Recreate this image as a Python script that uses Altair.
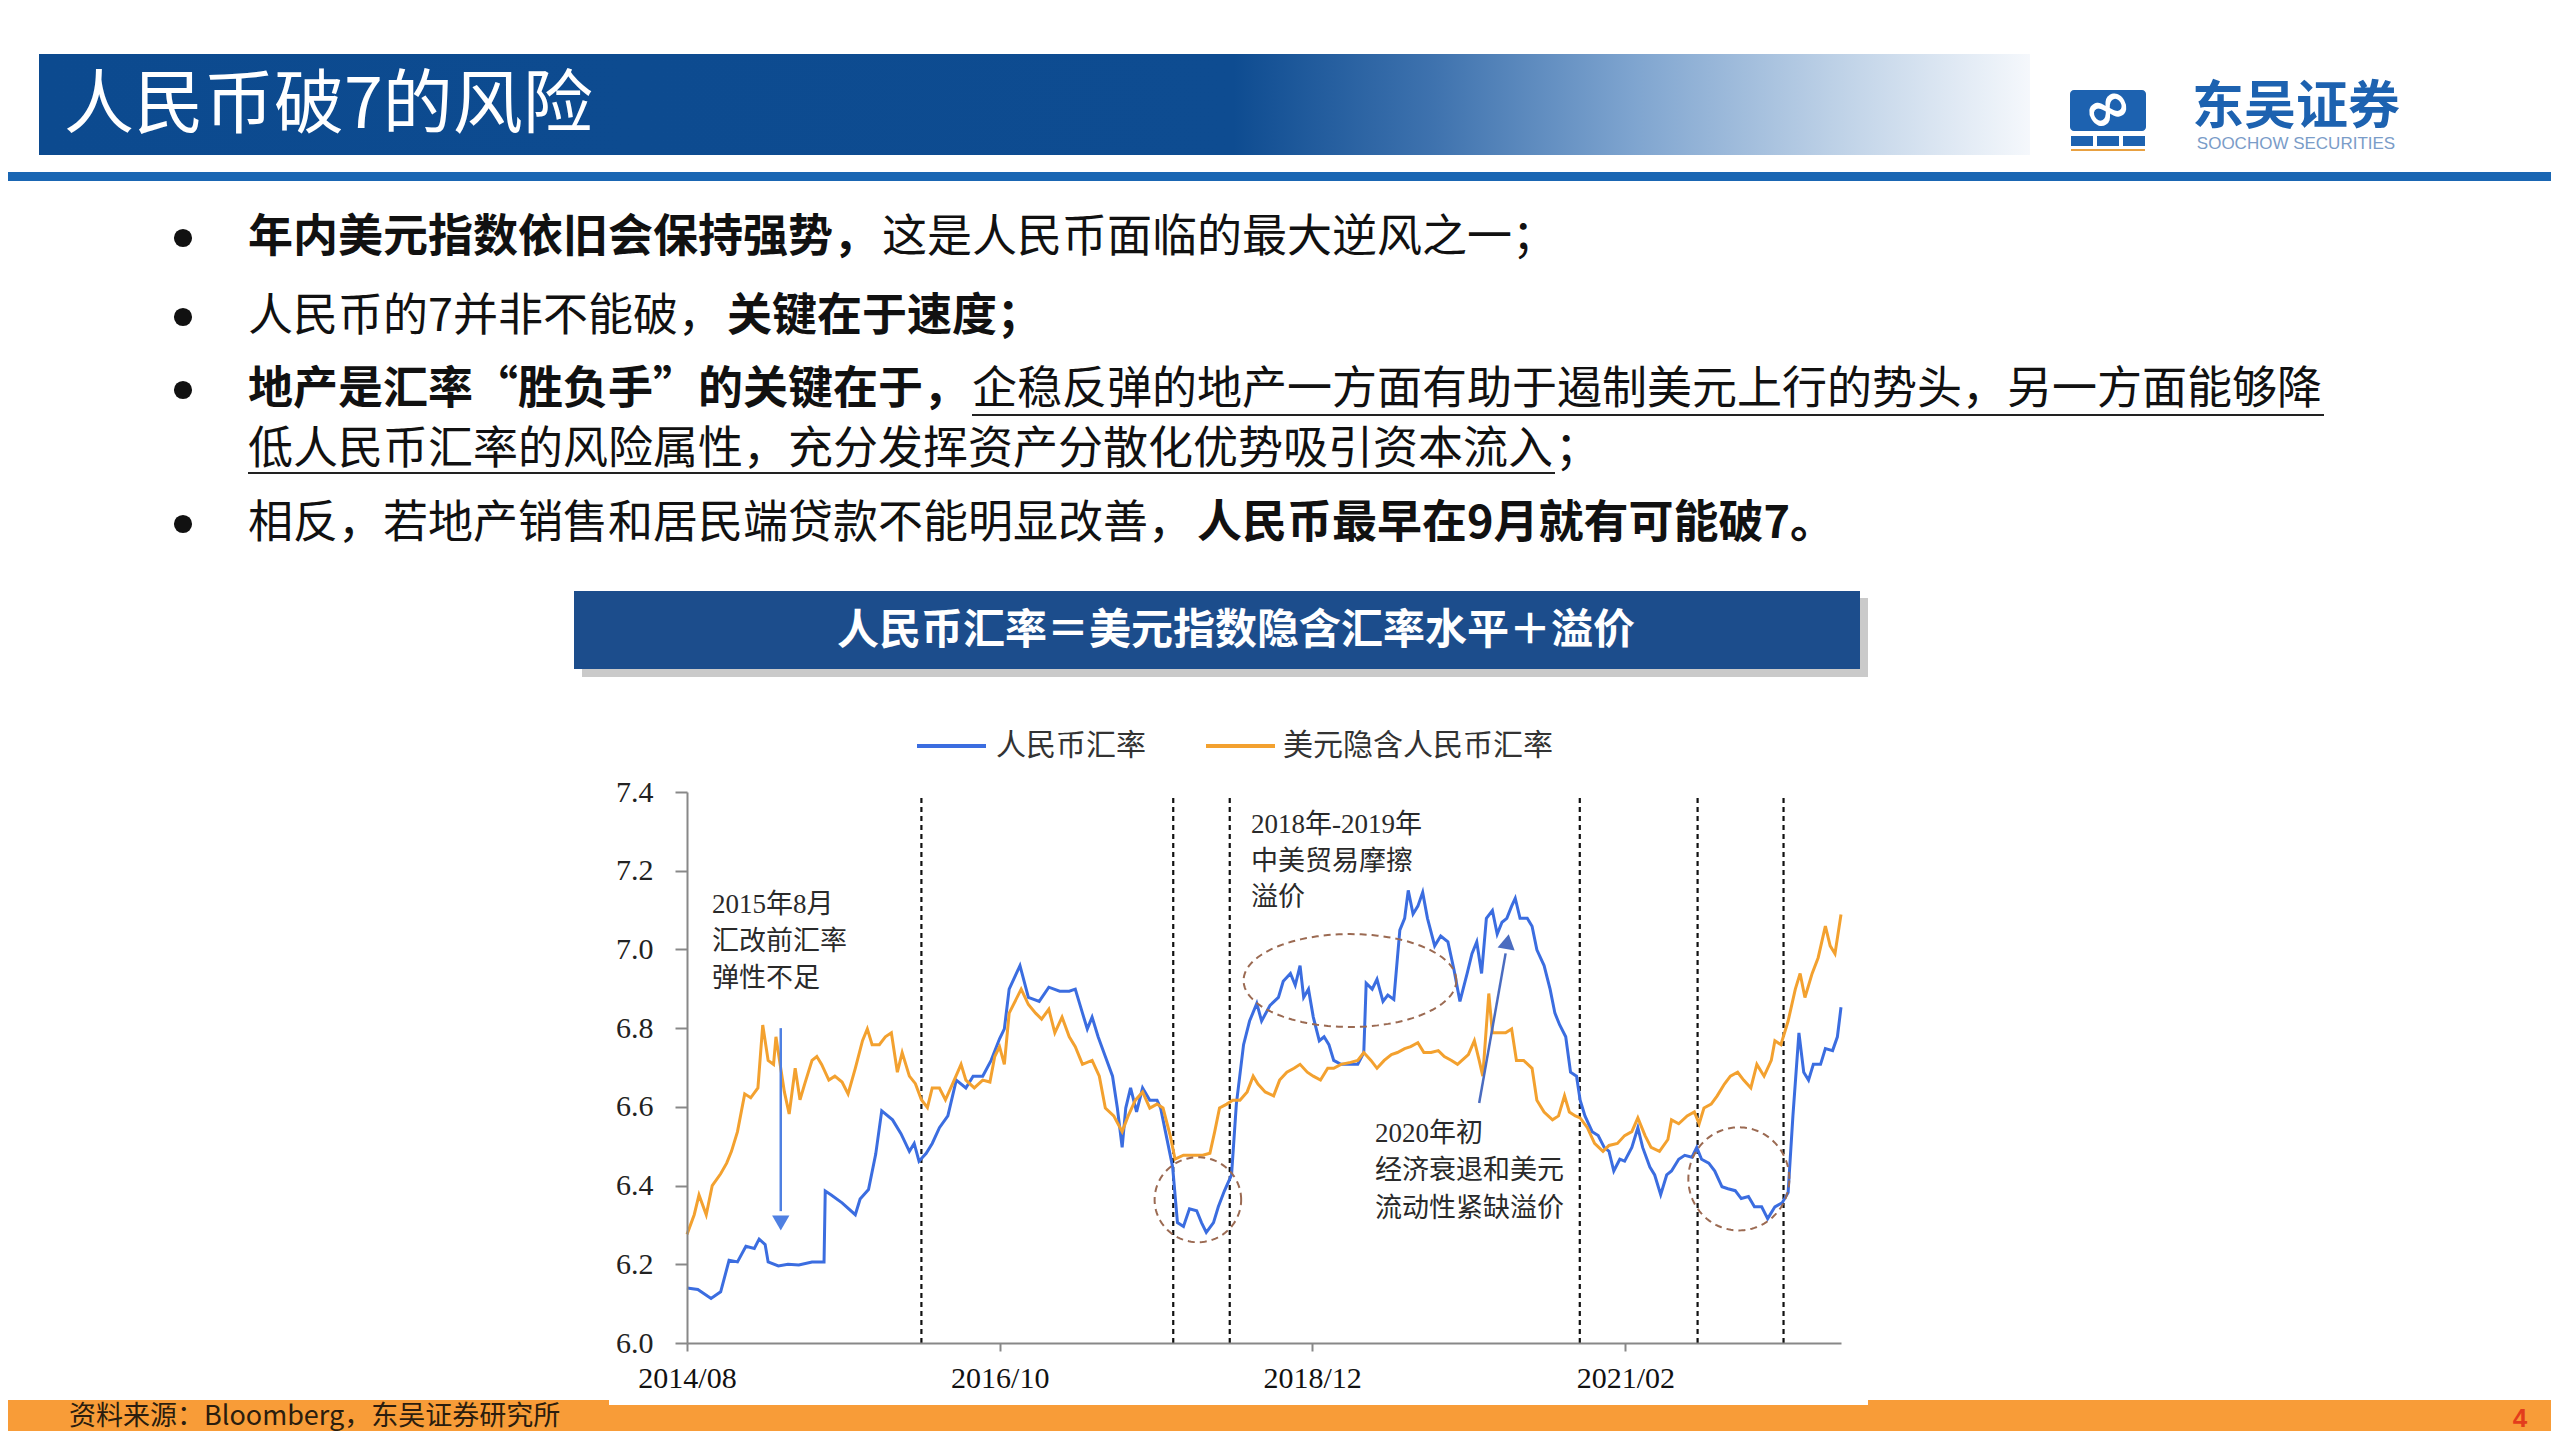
import altair as alt
import numpy as np
import pandas as pd

# ---------------- data ----------------
SERIES = ["人民币汇率", "美元隐含人民币汇率"]
SERIES_COLORS = ["#3b6de0", "#f3a12f"]

# x positions are months after 2014/08, values are CNY per USD
cny_m = [0, 0.9, 2.0, 2.8, 3.5, 4.2, 4.9, 5.6, 6.0, 6.5,
         6.75, 7.6, 8.4, 9.3, 10.4, 11.4, 11.5, 12.0, 12.9, 14.0,
         14.4, 15.1, 15.7, 16.2, 17.1, 17.8, 18.5, 18.9, 19.3, 19.9,
         20.4, 21.0, 21.7, 22.4, 23.2, 23.8, 24.6, 25.3, 26.0, 26.4,
         26.8, 27.7, 28.4, 29.3, 30.1, 31.0, 31.8, 32.3, 32.9, 33.3,
         33.7, 34.2, 34.8, 35.4, 35.8, 36.2, 36.5, 36.9, 37.4, 37.9,
         38.5, 39.1, 39.4, 39.8, 40.4, 40.8, 41.3, 41.8, 42.4, 42.8,
         43.2, 43.8, 44.2, 44.7, 45.3, 45.7, 46.3, 46.8, 47.4, 47.8,
         48.5, 49.2, 49.6, 50.2, 50.6, 51.0, 51.3, 51.7, 52.1, 52.6,
         53.0, 53.4, 53.8, 54.4, 55.0, 55.8, 56.3, 56.5, 57.0, 57.4,
         57.9, 58.3, 58.8, 59.3, 59.7, 60.0, 60.4, 60.8, 61.2, 61.6,
         62.2, 62.7, 63.3, 63.8, 64.3, 64.9, 65.3, 65.7, 66.1, 66.5,
         67.0, 67.4, 67.8, 68.2, 68.6, 68.9, 69.3, 69.9, 70.3, 70.7,
         71.3, 71.8, 72.2, 72.6, 73.1, 73.5, 74.0, 74.3, 74.7, 75.3,
         75.8, 76.3, 76.7, 77.1, 77.6, 78.0, 78.6, 79.1, 79.5, 80.1,
         80.5, 81.0, 81.5, 81.9, 82.5, 83.0, 83.6, 84.0, 84.4, 85.0,
         85.5, 86.1, 86.6, 87.2, 87.7, 88.3, 88.8, 89.4, 89.9, 90.5,
         91.1, 91.6, 92.0, 92.5, 92.9, 93.3, 93.7, 94.3, 94.7, 95.3,
         95.7, 96.0]
cny_v = [6.140, 6.136, 6.113, 6.130, 6.210, 6.206, 6.246, 6.240, 6.264, 6.250,
         6.206, 6.196, 6.200, 6.198, 6.206, 6.206, 6.386, 6.376, 6.356, 6.326,
         6.366, 6.390, 6.480, 6.590, 6.567, 6.532, 6.487, 6.507, 6.462, 6.482,
         6.507, 6.547, 6.577, 6.668, 6.648, 6.678, 6.678, 6.718, 6.773, 6.798,
         6.899, 6.959, 6.878, 6.868, 6.904, 6.894, 6.894, 6.899, 6.838, 6.798,
         6.828, 6.778, 6.728, 6.678, 6.597, 6.497, 6.597, 6.648, 6.587, 6.648,
         6.617, 6.617, 6.597, 6.537, 6.447, 6.306, 6.296, 6.341, 6.336, 6.306,
         6.281, 6.306, 6.346, 6.386, 6.427, 6.607, 6.758, 6.818, 6.863, 6.818,
         6.858, 6.878, 6.919, 6.939, 6.909, 6.959, 6.878, 6.899, 6.828, 6.768,
         6.778, 6.758, 6.718, 6.708, 6.708, 6.708, 6.738, 6.914, 6.899, 6.924,
         6.868, 6.884, 6.873, 7.049, 7.079, 7.150, 7.090, 7.110, 7.145, 7.079,
         7.009, 7.034, 7.019, 6.949, 6.868, 6.939, 6.989, 7.019, 6.939, 7.079,
         7.099, 7.039, 7.069, 7.079, 7.110, 7.130, 7.079, 7.079, 7.059, 6.999,
         6.959, 6.899, 6.838, 6.808, 6.778, 6.688, 6.678, 6.617, 6.577, 6.537,
         6.527, 6.497, 6.487, 6.437, 6.467, 6.462, 6.497, 6.547, 6.497, 6.447,
         6.427, 6.377, 6.427, 6.437, 6.467, 6.477, 6.472, 6.497, 6.467, 6.457,
         6.437, 6.397, 6.392, 6.387, 6.367, 6.372, 6.346, 6.346, 6.316, 6.346,
         6.356, 6.382, 6.577, 6.788, 6.688, 6.668, 6.708, 6.708, 6.748, 6.743,
         6.778, 6.853]

usd_m = [0, 0.6, 1.0, 1.6, 2.1, 2.8, 3.3, 3.7, 4.2, 4.8,
         5.3, 5.9, 6.3, 6.75, 7.2, 7.4, 7.7, 8.1, 8.5, 9.0,
         9.4, 9.8, 10.4, 10.8, 11.2, 11.8, 12.3, 12.9, 13.4, 14.0,
         14.6, 15.0, 15.4, 16.0, 16.5, 17.0, 17.5, 17.9, 18.5, 19.0,
         19.5, 20.0, 20.4, 21.0, 21.5, 22.1, 22.8, 23.2, 23.9, 24.6,
         25.2, 25.6, 26.0, 26.4, 26.8, 27.8, 28.4, 29.0, 29.5, 30.1,
         30.6, 31.2, 31.8, 32.3, 32.9, 33.7, 34.3, 34.8, 35.5, 36.2,
         36.7, 37.3, 37.9, 38.5, 39.1, 39.6, 40.2, 40.6, 41.3, 42.1,
         42.9, 43.5, 43.9, 44.3, 44.9, 45.4, 46.0, 46.6, 47.1, 47.5,
         48.1, 48.8, 49.3, 49.9, 50.5, 51.0, 51.6, 52.1, 52.7, 53.3,
         53.8, 54.4, 55.2, 55.8, 56.3, 56.9, 57.4, 58.0, 58.6, 59.1,
         59.7, 60.2, 60.8, 61.3, 61.9, 62.5, 63.0, 63.6, 64.1, 65.0,
         65.5, 65.9, 66.2, 66.7, 67.0, 67.5, 68.1, 68.6, 69.0, 69.6,
         70.3, 70.7, 71.3, 72.0, 72.5, 73.0, 73.4, 73.9, 74.3, 74.9,
         75.5, 76.2, 76.7, 77.4, 78.0, 78.6, 79.1, 79.7, 80.2, 80.9,
         81.6, 81.9, 82.5, 83.2, 83.8, 84.2, 84.6, 85.2, 85.7, 86.3,
         86.8, 87.4, 87.9, 88.5, 89.0, 89.6, 90.2, 90.5, 91.0, 91.6,
         92.2, 92.6, 93.0, 93.6, 94.1, 94.7, 95.1, 95.5, 96.0]
usd_v = [6.276, 6.326, 6.376, 6.326, 6.400, 6.430, 6.457, 6.487, 6.537, 6.633,
         6.623, 6.648, 6.808, 6.718, 6.708, 6.778, 6.718, 6.638, 6.582, 6.698,
         6.618, 6.659, 6.718, 6.728, 6.708, 6.668, 6.678, 6.663, 6.633, 6.698,
         6.768, 6.798, 6.758, 6.758, 6.778, 6.788, 6.688, 6.738, 6.678, 6.659,
         6.618, 6.598, 6.648, 6.648, 6.618, 6.659, 6.708, 6.668, 6.648, 6.668,
         6.663, 6.728, 6.753, 6.708, 6.838, 6.899, 6.860, 6.838, 6.823, 6.848,
         6.788, 6.828, 6.778, 6.753, 6.708, 6.718, 6.678, 6.597, 6.577, 6.537,
         6.577, 6.617, 6.638, 6.597, 6.607, 6.597, 6.527, 6.467, 6.477, 6.477,
         6.477, 6.482, 6.537, 6.597, 6.607, 6.617, 6.617, 6.638, 6.678, 6.658,
         6.638, 6.628, 6.668, 6.688, 6.698, 6.708, 6.688, 6.678, 6.668, 6.698,
         6.698, 6.708, 6.713, 6.718, 6.738, 6.718, 6.698, 6.718, 6.733, 6.738,
         6.748, 6.753, 6.763, 6.738, 6.738, 6.743, 6.728, 6.718, 6.708, 6.733,
         6.768, 6.718, 6.678, 6.888, 6.788, 6.788, 6.788, 6.798, 6.718, 6.718,
         6.698, 6.617, 6.587, 6.567, 6.577, 6.628, 6.587, 6.577, 6.572, 6.547,
         6.507, 6.487, 6.502, 6.507, 6.527, 6.537, 6.572, 6.527, 6.497, 6.487,
         6.517, 6.567, 6.557, 6.577, 6.587, 6.557, 6.597, 6.607, 6.628, 6.658,
         6.678, 6.688, 6.668, 6.648, 6.708, 6.678, 6.718, 6.768, 6.758, 6.818,
         6.899, 6.939, 6.878, 6.939, 6.979, 7.059, 7.009, 6.989, 7.089]

assert len(cny_m) == len(cny_v) and len(usd_m) == len(usd_v)

x_tick_labels = ["2014/08", "2016/10", "2018/12", "2021/02"]
y_ticks = [6.0, 6.2, 6.4, 6.6, 6.8, 7.0, 7.2, 7.4]
regime_m = [19.5, 40.45, 45.15, 74.27, 84.07, 91.22]     # dashed separators

# dashed ellipses: centre month, centre value, half-width (months), half-height
ell_cm = [42.5, 55.15, 87.5]
ell_cv = [6.364, 6.921, 6.417]
ell_rm = [3.6, 8.85, 4.2]
ell_rv = [0.108, 0.118, 0.131]

# arrows (start month/value -> end month/value)
arr_m0 = [7.8, 65.9]
arr_v0 = [6.80, 6.61]
arr_m1 = [7.8, 68.1]
arr_v1 = [6.335, 6.99]
arr_col = ["#4f80e2", "#4a6cc0"]
head_m = [7.8, 68.25]
head_v = [6.305, 7.02]
head_shape = ["triangle-down", "triangle-up"]
head_angle = [0, 10]

# ---------------- helpers ----------------
BASE = pd.Timestamp("2014-08-01")


def mdate(m):
    return (BASE + pd.Timedelta(days=float(m) * 30.4375)).strftime("%Y-%m-%dT%H:%M:%S")


def dt_from_label(s):
    y, mo = s.split("/")
    return alt.DateTime(year=int(y), month=int(mo), date=1)


W, H = 1154, 551          # plot area
X0, Y0 = 687, 792         # plot origin in slide pixels


def px(x):
    return x - X0


def py(y):
    return y - Y0


CJK = "Noto Sans CJK SC"
SERIF = "Liberation Serif"
SERIF_CJK = "Liberation Serif, Noto Sans CJK SC"
ONE = alt.Data(values=[{"k": 1}])

XSCALE = alt.Scale(domain=[alt.DateTime(year=2014, month=8, date=1),
                           alt.DateTime(year=2022, month=8, date=1)])
YSCALE = alt.Scale(domain=[6.0, 7.4], nice=False, zero=False)
XAXIS = alt.Axis(values=[dt_from_label(s) for s in x_tick_labels], format="%Y/%m",
                 labelFont=SERIF, labelFontSize=30, labelColor="#111",
                 labelFlush=False, labelOverlap=False, tickSize=8, tickColor="#888",
                 tickWidth=2, domainColor="#888", domainWidth=2, labelPadding=12,
                 grid=False, zindex=1)
YAXIS = alt.Axis(values=y_ticks, format=".1f", labelFont=SERIF, labelFontSize=30,
                 labelColor="#222", tickSize=12, tickColor="#888", tickWidth=2,
                 domainColor="#888", domainWidth=2, labelPadding=22, grid=False,
                 zindex=1)


def XE(field):
    return alt.X(field, type="temporal", scale=XSCALE, axis=XAXIS, title=None)


def YE(field):
    return alt.Y(field, type="quantitative", scale=YSCALE, axis=YAXIS, title=None)


def txt(s, x, y, size, color="#111", weight="normal", font=CJK, align="left",
        baseline="middle", angle=0):
    return alt.Chart(ONE).mark_text(text=s, font=font, fontSize=size, fontWeight=weight,
                                    color=color, align=align, baseline=baseline,
                                    angle=angle).encode(x=alt.value(px(x)), y=alt.value(py(y)))


def rect(x1, y1, x2, y2, fill, opacity=1.0, radius=0):
    return alt.Chart(ONE).mark_rect(fill=fill, opacity=opacity, cornerRadius=radius).encode(
        x=alt.value(px(x1)), x2=alt.value(px(x2)), y=alt.value(py(y1)), y2=alt.value(py(y2)))


def hrule(x1, x2, y, color, width):
    return alt.Chart(ONE).mark_rule(color=color, strokeWidth=width).encode(
        x=alt.value(px(x1)), x2=alt.value(px(x2)), y=alt.value(py(y)))


# ---------------- data frames ----------------
series_df = pd.DataFrame({
    "date": [mdate(m) for m in cny_m] + [mdate(m) for m in usd_m],
    "value": cny_v + usd_v,
    "series": [SERIES[0]] * len(cny_m) + [SERIES[1]] * len(usd_m),
})

regime_df = pd.DataFrame({"date": [mdate(m) for m in regime_m],
                          "v0": [6.0] * len(regime_m), "v1": [7.385] * len(regime_m)})

rows = []
t = np.linspace(0, 2 * np.pi, 121)
for i in range(len(ell_cm)):
    for j, tt in enumerate(t):
        rows.append({"e": i, "k": j,
                     "date": mdate(ell_cm[i] + ell_rm[i] * np.cos(tt)),
                     "value": ell_cv[i] + ell_rv[i] * np.sin(tt)})
ell_df = pd.DataFrame(rows)

arrow_df = pd.DataFrame({"date": [mdate(m) for m in arr_m0], "value": arr_v0,
                         "date2": [mdate(m) for m in arr_m1], "value2": arr_v1,
                         "c": arr_col})
head_df = pd.DataFrame({"date": [mdate(m) for m in head_m], "value": head_v,
                        "shape": head_shape, "angle": head_angle, "c": arr_col})

# ---------------- slide decoration ----------------
BOTTOM = 1431
layers = []
# invisible frame that fixes the page extent
layers.append(rect(8, 8, 2551, BOTTOM, "white", opacity=0))

header_grad = alt.LinearGradient(
    gradient="linear", x1=0, x2=1, y1=0, y2=0,
    stops=[alt.GradientStop(color="#0c4a8f", offset=0),
           alt.GradientStop(color="#0e4c91", offset=0.6),
           alt.GradientStop(color="#3e72ae", offset=0.7),
           alt.GradientStop(color="#7ea4cf", offset=0.8),
           alt.GradientStop(color="#bcd0e6", offset=0.9),
           alt.GradientStop(color="#f5f8fc", offset=1)])
layers.append(alt.Chart(ONE).mark_rect(fill=header_grad).encode(
    x=alt.value(px(39)), x2=alt.value(px(2030)), y=alt.value(py(54)), y2=alt.value(py(155))))
layers.append(txt("人民币破7的风险", 64, 107, 70, color="white"))
layers.append(rect(8, 172, 2551, 181, "#1a66b3"))

# logo
layers.append(rect(2070, 90, 2146, 131, "#1d62b0", radius=4))
layers.append(txt("∞", 2108, 110, 58, color="white", weight="bold", font="DejaVu Sans",
                  align="center", angle=330))
for xa in (2071, 2097, 2123):
    layers.append(rect(xa, 136, xa + 22, 146, "#1d62b0"))
layers.append(hrule(2071, 2145, 150, "#e8a040", 2))
layers.append(txt("东吴证券", 2296, 108, 52, color="#1d62b0", weight="bold", align="center"))
layers.append(txt("SOOCHOW SECURITIES", 2296, 144, 17, color="#7a9cc8",
                  font="Liberation Sans", align="center"))

# bullets
BODY = 45
L3, L3B = 390, 450
for yb in (238, 317, L3, 524):
    layers.append(alt.Chart(ONE).mark_circle(size=330, color="#111", opacity=1).encode(
        x=alt.value(px(183)), y=alt.value(py(yb))))

layers.append(txt("年内美元指数依旧会保持强势，", 248, 238, BODY, weight="bold"))
layers.append(txt("这是人民币面临的最大逆风之一；", 882, 238, BODY))
layers.append(txt("人民币的7并非不能破，", 248, 317, BODY))
layers.append(txt("关键在于速度；", 727, 317, BODY, weight="bold"))
layers.append(txt("地产是汇率“胜负手”的关键在于，", 248, L3, BODY, weight="bold"))
layers.append(txt("企稳反弹的地产一方面有助于遏制美元上行的势头，另一方面能够降", 972, L3, BODY))
layers.append(txt("低人民币汇率的风险属性，充分发挥资产分散化优势吸引资本流入", 248, L3B, BODY))
layers.append(txt("；", 1555, L3B, BODY))
layers.append(txt("相反，若地产销售和居民端贷款不能明显改善，", 248, 524, BODY))
layers.append(txt("人民币最早在9月就有可能破7。", 1197, 524, BODY, weight="bold"))
layers.append(hrule(972, 2324, L3 + 25, "#222", 2))
layers.append(hrule(248, 1555, L3B + 23, "#222", 2))

# chart title box
layers.append(rect(582, 598, 1868, 677, "#8a8a8a", opacity=0.45))
layers.append(rect(574, 591, 1860, 669, "#1c4d8c"))
layers.append(txt("人民币汇率＝美元指数隐含汇率水平＋溢价", 1236, 631, 42, color="white",
                  weight="bold", align="center"))

# legend
layers.append(hrule(917, 986, 746, SERIES_COLORS[0], 4))
layers.append(txt(SERIES[0], 996, 746, 30, color="#333"))
layers.append(hrule(1206, 1275, 746, SERIES_COLORS[1], 4))
layers.append(txt(SERIES[1], 1283, 746, 30, color="#333"))

# ---------------- chart ----------------
layers.append(alt.Chart(regime_df).mark_rule(color="#111", strokeWidth=2.2,
                                             strokeDash=[5, 4]).encode(
    x=XE("date"), y=YE("v0"), y2=alt.Y2("v1")))

layers.append(alt.Chart(series_df).mark_line(strokeWidth=3).encode(
    x=XE("date"), y=YE("value"),
    color=alt.Color("series:N", scale=alt.Scale(domain=SERIES, range=SERIES_COLORS),
                    legend=None)))

layers.append(alt.Chart(ell_df).mark_line(color="#9b6a52", strokeWidth=2,
                                          strokeDash=[7, 5]).encode(
    x=XE("date"), y=YE("value"), detail="e:N", order="k:Q"))

layers.append(alt.Chart(arrow_df).mark_rule(strokeWidth=2.5).encode(
    x=XE("date"), y=YE("value"), x2=alt.X2("date2"), y2=alt.Y2("value2"),
    color=alt.Color("c:N", scale=None)))
layers.append(alt.Chart(head_df).mark_point(filled=True, size=300, opacity=1).encode(
    x=XE("date"), y=YE("value"),
    shape=alt.Shape("shape:N", scale=None),
    angle=alt.Angle("angle:Q", scale=None),
    color=alt.Color("c:N", scale=None)))

ANN = 27
for s, yy in zip(["2015年8月", "汇改前汇率", "弹性不足"], [905, 942, 979]):
    layers.append(txt(s, 712, yy, ANN, color="#2a2a2a", font=SERIF_CJK))
for s, yy in zip(["2018年-2019年", "中美贸易摩擦", "溢价"], [825, 862, 898]):
    layers.append(txt(s, 1251, yy, ANN, color="#2a2a2a", font=SERIF_CJK))
for s, yy in zip(["2020年初", "经济衰退和美元", "流动性紧缺溢价"], [1134, 1171, 1209]):
    layers.append(txt(s, 1375, yy, ANN, color="#2a2a2a", font=SERIF_CJK))

# ---------------- footer ----------------
layers.append(rect(8, 1400, 2551, BOTTOM, "#f89c38"))
layers.append(rect(609, 1398, 1868, 1405, "white"))
layers.append(txt("资料来源：Bloomberg，东吴证券研究所", 69, 1417, 27, color="#2b1d0e"))
layers.append(txt("4", 2520, 1419, 26, color="#e33d1c", weight="bold",
                  font="Liberation Sans", align="center"))

chart = alt.layer(*layers).properties(
    width=W, height=H, padding=0, background="white"
).configure_view(stroke=None)

chart.save("out.html", embed_options={"renderer": "svg", "actions": False})
